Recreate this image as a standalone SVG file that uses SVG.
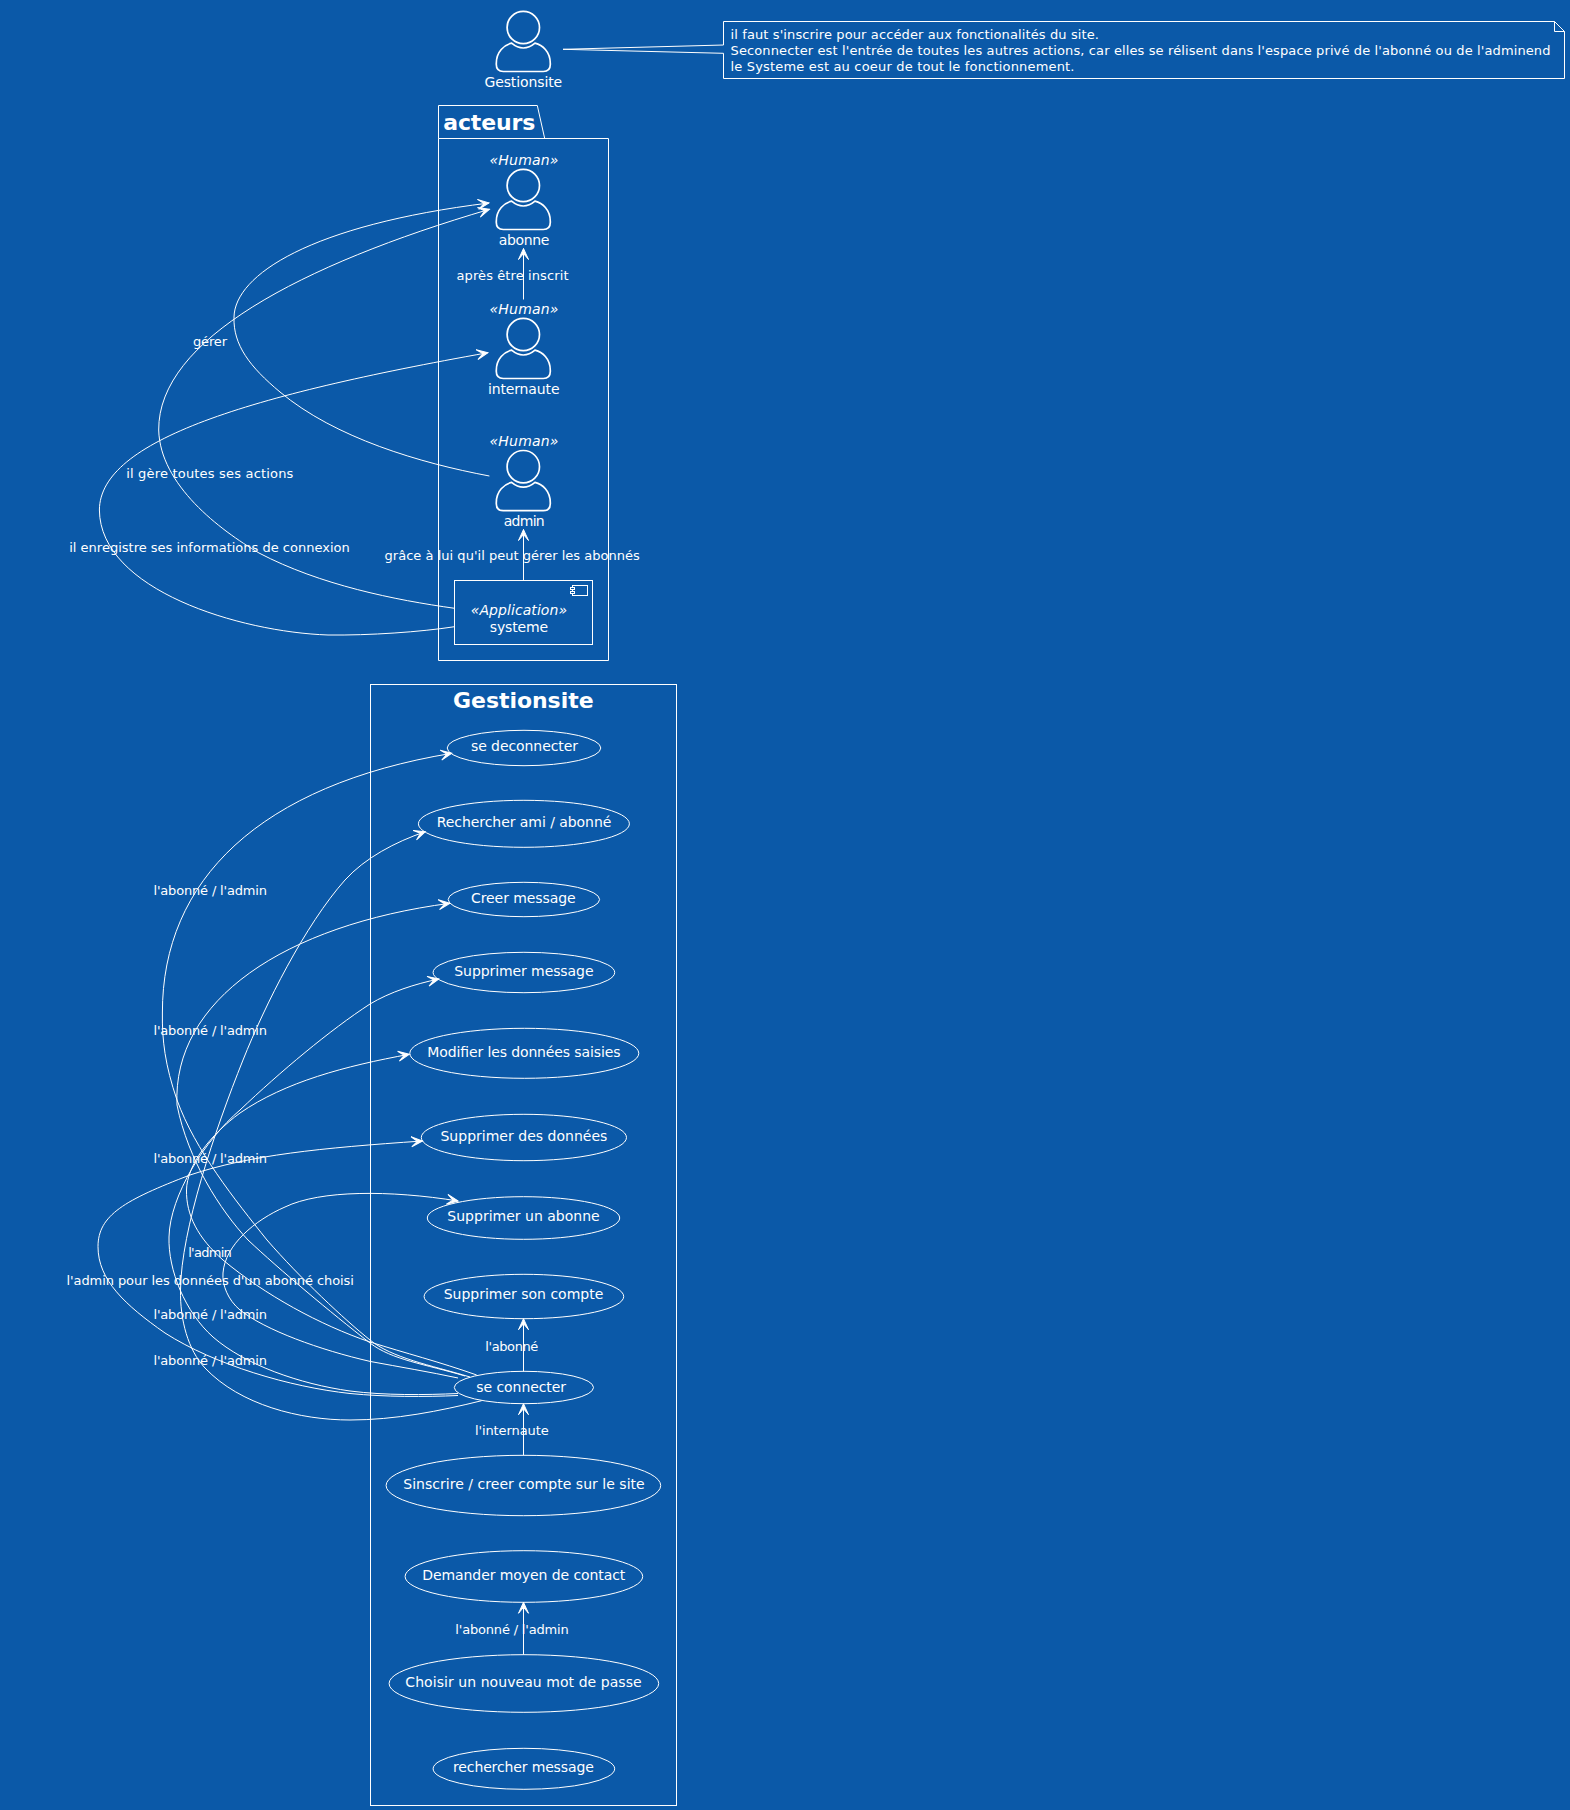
<svg xmlns="http://www.w3.org/2000/svg" width="1570" height="1810" viewBox="0 0 1570 1810">
<style>
text{font-family:"DejaVu Sans","Liberation Sans",sans-serif;fill:#fff;font-size:14px;text-anchor:middle}
.lb{font-size:13px}
.st{font-style:italic}
.nt{font-size:13px;text-anchor:start}
.ti{font-size:22px;font-weight:bold}
.sh{fill:none;stroke:#fff;stroke-width:1}
.ic{fill:#0b59a8;stroke:#fff;stroke-width:1}
.ac{fill:none;stroke:#fff;stroke-width:1.7}
.ed{fill:none;stroke:#fff;stroke-width:1;marker-end:url(#ah)}
.pl{fill:none;stroke:#fff;stroke-width:1}
</style>
<defs>
<marker id="ah" markerUnits="userSpaceOnUse" markerWidth="16" markerHeight="16" viewBox="-13 -8 16 16" refX="0" refY="0" orient="auto" overflow="visible">
<path d="M0,0 L-11,-5 L-5,0 L-11,5 Z" fill="#fff" stroke="#fff" stroke-width="1" stroke-linejoin="miter"/>
</marker>
<g id="actor">
<circle cx="0" cy="0" r="16.2" class="ac"/>
<path class="ac" d="M-27,36 C-27,24 -19,17.5 -11.7,15.7 Q-6,20.5 0,20.5 Q6,20.5 11.7,15.7 C19,17.5 27,24 27,36 V37 Q27,44 20,44 H-20 Q-27,44 -27,37 Z"/>
</g>
</defs>
<rect width="1570" height="1810" fill="#0b59a8"/>

<g id="actor-gestionsite">
<use href="#actor" x="523.3" y="27.5"/>
<text x="523.3" y="86.5" textLength="77.7">Gestionsite</text>
</g>
<g id="note">
<path class="sh" d="M723.5,21.5 V45 L563,49.3 L723.5,53.3 V78.5 H1564.5 V31.5 L1554.5,21.5 Z M1554.5,21.5 V31.5 H1564.5"/>
<text class="nt" x="730.5" y="38.5" textLength="368.5">il faut s'inscrire pour accéder aux fonctionalités du site.</text>
<text class="nt" x="730.5" y="54.5" textLength="820">Seconnecter est l'entrée de toutes les autres actions, car elles se rélisent dans l'espace privé de l'abonné ou de l'adminend</text>
<text class="nt" x="730.5" y="70.5" textLength="344">le Systeme est au coeur de tout le fonctionnement.</text>
</g>

<g id="package-acteurs">
<path class="pl" d="M438.5,138.5 V105.5 H537.3 L544.7,138.5 M438.5,138.5 H608.5 V660.5 H438.5 Z"/>
<text class="ti" x="489.3" y="129.5" textLength="92">acteurs</text>
</g>
<g id="abonne">
<text class="st" x="524" y="165" textLength="69">«Human»</text>
<use href="#actor" x="523.3" y="185.5"/>
<text x="524" y="244.7" textLength="50.7">abonne</text>
</g>
<g id="internaute">
<text class="st" x="524" y="313.5" textLength="69">«Human»</text>
<use href="#actor" x="523.3" y="334.5"/>
<text x="523.7" y="394" textLength="71.6">internaute</text>
</g>
<g id="admin">
<text class="st" x="524" y="445.7" textLength="69">«Human»</text>
<use href="#actor" x="523.3" y="466.7"/>
<text x="524.2" y="526" textLength="41">admin</text>
</g>
<g id="systeme">
<rect class="sh" x="454.5" y="580.5" width="138" height="64"/>
<rect class="sh" x="572.5" y="585.5" width="15" height="10"/>
<rect class="ic" x="570.5" y="587.5" width="4" height="2"/>
<rect class="ic" x="570.5" y="591.5" width="4" height="2"/>
<text class="st" x="518.9" y="615" textLength="96.4">«Application»</text>
<text x="518.9" y="631.7" textLength="58.2">systeme</text>
</g>

<g id="package-gestionsite">
<rect class="pl" x="370.5" y="684.5" width="306" height="1121"/>
<text class="ti" x="523.3" y="708.3" textLength="140.5">Gestionsite</text>
</g>

<g id="uc-deconnecter"><ellipse class="sh" cx="524" cy="748" rx="76.8" ry="17.7"/><text x="524.5" y="750.7" textLength="107">se deconnecter</text></g>
<g id="uc-rechercher-ami"><ellipse class="sh" cx="523.9" cy="823.8" rx="105.5" ry="23.5"/><text x="524" y="826.7" textLength="174.7">Rechercher ami / abonné</text></g>
<g id="uc-creer-message"><ellipse class="sh" cx="523.9" cy="899.5" rx="75.7" ry="17.2"/><text x="523.3" y="902.7" textLength="104.5">Creer message</text></g>
<g id="uc-supprimer-message"><ellipse class="sh" cx="523.9" cy="972.5" rx="90.8" ry="20.2"/><text x="523.9" y="975.7" textLength="139.2">Supprimer message</text></g>
<g id="uc-modifier"><ellipse class="sh" cx="524.3" cy="1053.3" rx="114.5" ry="25"/><text x="523.9" y="1056.7" textLength="193.1">Modifier les données saisies</text></g>
<g id="uc-supprimer-donnees"><ellipse class="sh" cx="523.9" cy="1137.5" rx="102.6" ry="23.2"/><text x="523.9" y="1140.7" textLength="166.9">Supprimer des données</text></g>
<g id="uc-supprimer-abonne"><ellipse class="sh" cx="523.5" cy="1218" rx="96.2" ry="21.3"/><text x="523.5" y="1220.7" textLength="152.3">Supprimer un abonne</text></g>
<g id="uc-supprimer-compte"><ellipse class="sh" cx="523.9" cy="1296.5" rx="99.8" ry="22.2"/><text x="523.5" y="1299.3" textLength="159.6">Supprimer son compte</text></g>
<g id="uc-connecter"><ellipse class="sh" cx="523.9" cy="1387.5" rx="69.6" ry="16.2"/><text x="521.2" y="1391.7" textLength="89.7">se connecter</text></g>
<g id="uc-sinscrire"><ellipse class="sh" cx="523.4" cy="1485.5" rx="137.3" ry="30.2"/><text x="524" y="1488.7" textLength="241.4">Sinscrire / creer compte sur le site</text></g>
<g id="uc-demander"><ellipse class="sh" cx="523.9" cy="1576.5" rx="118.8" ry="25.8"/><text x="523.8" y="1580" textLength="203">Demander moyen de contact</text></g>
<g id="uc-choisir"><ellipse class="sh" cx="523.9" cy="1683.5" rx="134.8" ry="28.8"/><text x="523.5" y="1686.7" textLength="236.4">Choisir un nouveau mot de passe</text></g>
<g id="uc-rechercher-message"><ellipse class="sh" cx="523.9" cy="1768.8" rx="90.8" ry="20.5"/><text x="523.4" y="1771.7" textLength="140.7">rechercher message</text></g>

<g id="connectors">
<path class="ed" d="M523.5,299.5 V248.5"/>
<path class="ed" d="M523.5,580 V529.5"/>
<path class="ed" d="M489.4,476 C420,463 335,438 280,392 C250,367 233,345 234,317 C235,275 310,225 489,203"/>
<path class="ed" d="M454.6,608.3 C395,600 320,585 259,553 C220,530 160,485 158.7,430 C158,340 300,265 489.4,209.3"/>
<path class="ed" d="M454.6,626.7 C420,632 370,635.5 328,635 C240,632 100,590 99.4,510 C99.8,440 250,395 487.9,352.7"/>
<path class="ed" d="M470,1377 C430,1365 392,1358 370,1340 C345,1320 300,1278 267,1240 C235,1200 195,1150 177,1100 C165,1065 162,1040 162.4,1013 C162,880 260,785 451.8,753.3"/>
<path class="ed" d="M481.7,1400.7 C440,1411 395,1420 350,1420 C300,1420 240,1405 205,1368 C188,1350 180,1320 180.5,1290 C181,1230 215,1130 243,1060 C265,1005 305,925 345,880 C365,858 395,842 425.3,831.7"/>
<path class="ed" d="M465,1376 C425,1364 392,1360 370,1343 C330,1312 280,1270 248,1240 C220,1210 188,1160 177,1105 C172,1000 285,925 449.8,903.3"/>
<path class="ed" d="M458,1393.5 C425,1395 385,1395.5 350,1391 C300,1384 245,1365 213,1337 C185,1312 168,1270 169,1237 C170,1195 205,1140 240,1110 C280,1072 330,1030 370,1004 C390,992 415,984 438.8,979"/>
<path class="ed" d="M476.7,1375 C440,1362 405,1353 370,1342 C320,1325 265,1295 223,1260 C198,1238 186,1215 186.5,1190 C187,1165 210,1135 240,1113 C285,1082 345,1066 409.3,1054.3"/>
<path class="ed" d="M458,1395.5 C425,1397 385,1397 350,1393.5 C290,1387 215,1365 165,1333 C125,1305 98,1280 98,1246.7 C98,1215 125,1200 190,1175 C250,1155 320,1148 422.4,1141"/>
<path class="ed" d="M458,1378 C430,1372 400,1367 370.5,1361.5 C320,1350 265,1330 240,1310 C228,1300 222,1285 223,1273 C225,1245 255,1220 285,1207 C320,1190 390,1190 458,1201"/>
<path class="ed" d="M523.5,1371.5 V1318.7"/>
<path class="ed" d="M523.5,1455.5 V1403.7"/>
<path class="ed" d="M523.5,1654.7 V1602.3"/>
<text class="lb" x="512.5" y="280" textLength="112">après être inscrit</text>
<text class="lb" x="512.2" y="560" textLength="255.3">grâce à lui qu'il peut gérer les abonnés</text>
<text class="lb" x="210" y="346" textLength="34">gérer</text>
<text class="lb" x="209.8" y="477.7" textLength="167.2">il gère toutes ses actions</text>
<text class="lb" x="209.5" y="551.7" textLength="280.5">il enregistre ses informations de connexion</text>
<text class="lb" x="210.2" y="895" textLength="113.5">l'abonné / l'admin</text>
<text class="lb" x="210.2" y="1035" textLength="113.5">l'abonné / l'admin</text>
<text class="lb" x="210.2" y="1163" textLength="113.5">l'abonné / l'admin</text>
<text class="lb" x="210" y="1257" textLength="43.6">l'admin</text>
<text class="lb" x="210.2" y="1285" textLength="287.4">l'admin pour les données d'un abonné choisi</text>
<text class="lb" x="210.2" y="1319" textLength="113.5">l'abonné / l'admin</text>
<text class="lb" x="210.2" y="1365" textLength="113.5">l'abonné / l'admin</text>
<text class="lb" x="511.8" y="1350.7" textLength="53">l'abonné</text>
<text class="lb" x="511.8" y="1435" textLength="73.7">l'internaute</text>
<text class="lb" x="512" y="1634" textLength="113.4">l'abonné / l'admin</text>
</g>
</svg>
